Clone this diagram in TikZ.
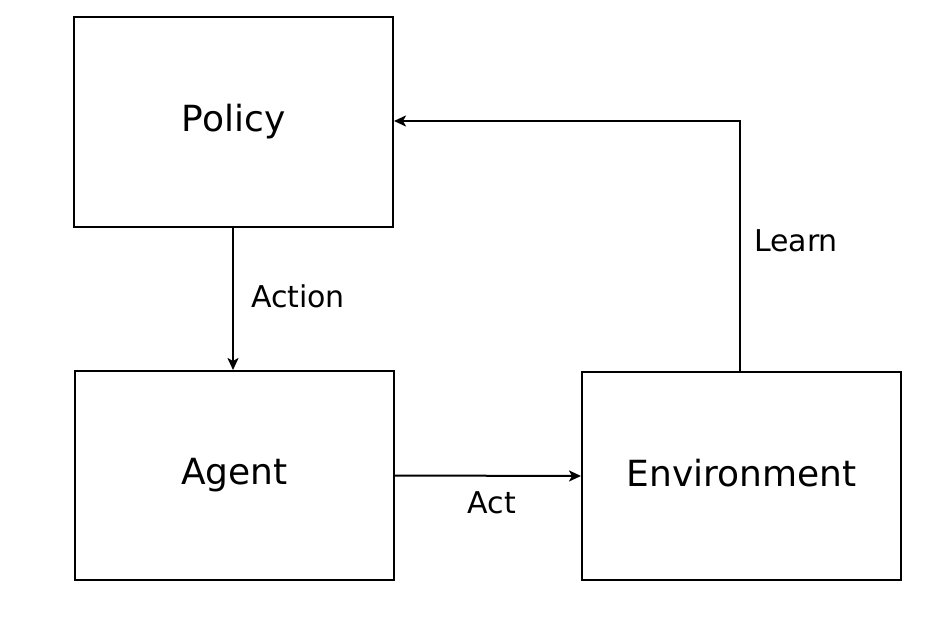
\documentclass[tikz,border=0pt]{standalone}
\usepackage{fontspec}
\setmainfont{DejaVu Sans}
\usetikzlibrary{arrows.meta}
\newcommand{\bigtxt}{\fontsize{36pt}{40pt}\selectfont}
\newcommand{\smalltxt}{\fontsize{30pt}{34pt}\selectfont}
\begin{document}
\begin{tikzpicture}[x=1pt,y=-1pt,
  box/.style={draw,line width=2pt,inner sep=0pt,anchor=north west},
  conn/.style={line width=2pt,-{Stealth[length=12pt,width=11pt,inset=3pt]}},
  lbl/.style={inner sep=0pt}]
\useasboundingbox (0,0) rectangle (937,618);
\node[box,minimum width=319pt,minimum height=210pt] (policy) at (73,16) {\bigtxt\raisebox{1pt}{Policy}};
\node[box,minimum width=319pt,minimum height=209pt] (agent) at (74,370) {\bigtxt\raisebox{3pt}{Agent}};
\node[box,minimum width=319pt,minimum height=208pt] (env) at (581,371) {\bigtxt\raisebox{7pt}{Environment}};
\draw[conn] (policy.south -| 233,0) -- (agent.north -| 233,0);
\draw[conn] (agent.east) -- (env.west);
\coordinate (corner) at (740,121);
\draw[conn] (env.north -| corner) -- (corner) -- (policy.east |- corner);
\node[lbl] (action) at (298,296) {\smalltxt Action};
\node[lbl] (act) at (492,503) {\smalltxt Act};
\node[lbl] (learn) at (796,241) {\smalltxt Learn};
\end{tikzpicture}
\end{document}
